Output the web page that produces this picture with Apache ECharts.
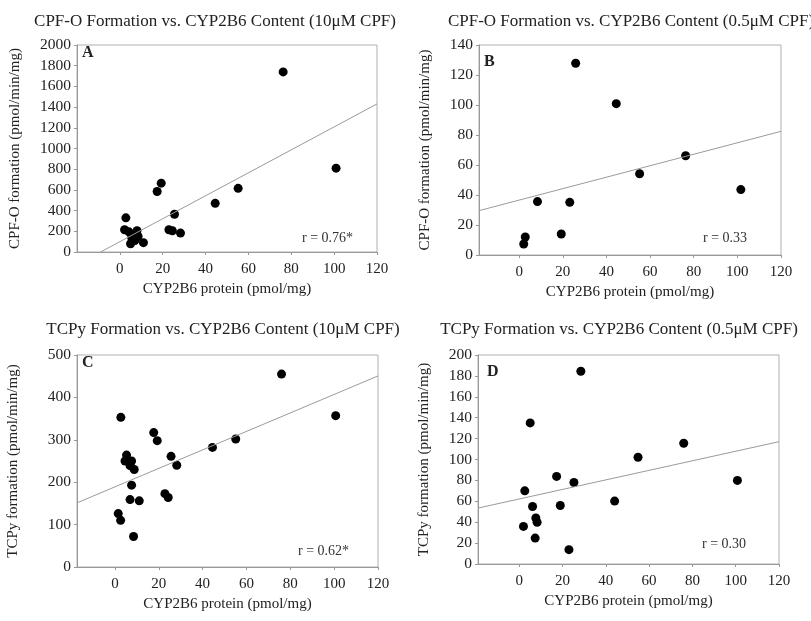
<!DOCTYPE html>
<html>
<head>
<meta charset="utf-8">
<script src="https://cdn.jsdelivr.net/npm/echarts@6/dist/echarts.min.js"></script>
<style>
  html, body { margin: 0; padding: 0; background: #fff; }
  #chart { width: 811px; height: 621px; }
</style>
</head>
<body>
<div id="chart"></div>
<script>
  // CYP2B6 protein (pmol/mg) vs formation rates
  const xA = [2.2, 2.8, 4.2, 5.0, 5.5, 6.3, 7.0, 7.5, 8.0, 8.5, 11.0, 17.4, 19.3, 22.9, 24.5, 25.5, 28.3, 44.5, 55.2, 76.2, 100.9]
  const yA = [215, 330, 195, 80, 140, 165, 110, 180, 205, 150, 90, 585, 665, 215, 205, 365, 183, 470, 615, 1740, 810]

  const xB = [2.1, 2.8, 8.4, 19.3, 23.2, 25.9, 44.5, 55.2, 76.3, 101.6]
  const yB = [7.3, 12, 35.6, 14, 35.1, 127.8, 100.9, 54.2, 66.2, 43.6]

  const xC = [1.5, 2.6, 2.7, 4.6, 5.3, 6.9, 6.9, 7.6, 7.6, 8.5, 8.8, 11.1, 17.7, 19.3, 22.8, 24.3, 25.6, 28.2, 44.5, 55.1, 76.0, 100.7]
  const yC = [126, 110, 353, 250, 264, 239, 159, 250, 193, 72, 230, 156, 317, 298, 173, 164, 261, 240, 282, 302, 455, 357]

  const xD = [2.0, 2.6, 5.1, 6.2, 7.4, 7.7, 8.3, 17.3, 19.0, 23.0, 25.3, 28.5, 44.1, 54.9, 76.0, 100.8]
  const yD = [36, 70, 135, 55, 24.8, 44, 40, 83.8, 56, 13.7, 78, 184.4, 60.2, 102.2, 115.6, 80]

  // regression lines: [intercept, slope]
  const fitA = [99.8, 11.09]
  const fitB = [36.6, 0.382]
  const fitC = [189, 2.18]
  const fitD = [62.2, 0.457]

  const titles = [
    'CPF-O Formation vs. CYP2B6 Content (10\u03bcM CPF)',
    'CPF-O Formation vs. CYP2B6 Content (0.5\u03bcM CPF)',
    'TCPy Formation vs. CYP2B6 Content (10\u03bcM CPF)',
    'TCPy Formation vs. CYP2B6 Content (0.5\u03bcM CPF)'
  ]
  const yNames = ['CPF-O formation (pmol/min/mg)', 'CPF-O formation (pmol/min/mg)',
    'TCPy formation (pmol/min/mg)', 'TCPy formation (pmol/min/mg)']
  const xName = 'CYP2B6 protein (pmol/mg)'
  const letters = ['A', 'B', 'C', 'D']
  const rTexts = ['r = 0.76*', 'r = 0.33', 'r = 0.62*', 'r = 0.30']
  const xTicks = [0, 20, 40, 60, 80, 100, 120]
  const yMax = [2000, 140, 500, 200]
  const yStep = [200, 20, 100, 20]
  const xMin = [-20, -18.4, -17.3, -19]

  const serif = '"Liberation Serif", "DejaVu Serif", serif'
  const xs = [xA, xB, xC, xD]
  const ys = [yA, yB, yC, yD]
  const fits = [fitA, fitB, fitC, fitD]

  // grid boxes in px: left, top, width, height
  const boxes = [
    [77, 45, 300, 207],
    [479, 45, 302, 210],
    [77, 355, 301, 212],
    [478, 355, 301, 209]
  ]
  const titlePos = [[210, 8], [626, 8], [218, 316], [614, 316]]
  const yNameGap = [54, 46, 56, 46]
  const letterPos = [[82, 45], [484, 54], [82, 355], [487, 364]]
  const rPos = [[302, 231], [703, 231], [298, 544], [702, 537]]

  let chart = echarts.init(document.getElementById('chart'))

  let grid = [], xAxis = [], yAxis = [], series = [], title = [], graphic = []
  for (let i = 0; i < 4; i++) {
    let b = boxes[i]
    grid.push({ left: b[0], top: b[1], width: b[2], height: b[3], show: true, borderColor: '#b0b0b0', borderWidth: 1 })
    xAxis.push({
      gridIndex: i, type: 'value', min: xMin[i], max: 120,
      name: xName, nameLocation: 'middle', nameGap: 30,
      nameTextStyle: { fontFamily: serif, fontSize: 15, color: '#222' },
      axisLine: { onZero: false, lineStyle: { color: '#999' } },
      axisTick: { show: true, length: 3, customValues: xTicks, lineStyle: { color: '#999' } },
      axisLabel: { customValues: xTicks, fontFamily: serif, fontSize: 15, color: '#222', margin: 10 },
      splitLine: { show: false }
    })
    yAxis.push({
      gridIndex: i, type: 'value', min: 0, max: yMax[i], interval: yStep[i],
      name: yNames[i], nameLocation: 'middle', nameGap: yNameGap[i], nameRotate: 90,
      nameTextStyle: { fontFamily: serif, fontSize: 15, color: '#222' },
      axisLine: { show: true, onZero: false, lineStyle: { color: '#999' } },
      axisTick: { show: true, length: 3, lineStyle: { color: '#999' } },
      axisLabel: { fontFamily: serif, fontSize: 15.5, color: '#222', margin: 6, formatter: v => String(v) },
      splitLine: { show: false }
    })
    let f = fits[i]
    let x0 = Math.max(xMin[i], -f[0] / f[1])
    series.push({
      type: 'line', xAxisIndex: i, yAxisIndex: i, symbol: 'none', silent: true,
      lineStyle: { color: '#9a9a9a', width: 1 },
      data: [[x0, f[0] + f[1] * x0], [120, f[0] + f[1] * 120]]
    })
    series.push({
      type: 'scatter', xAxisIndex: i, yAxisIndex: i, symbolSize: 9,
      itemStyle: { color: '#000', opacity: 1 },
      data: xs[i].map((x, k) => [x, ys[i][k]])
    })
    title.push({
      text: titles[i], left: titlePos[i][0], top: titlePos[i][1], textAlign: 'center',
      textStyle: { fontFamily: serif, fontSize: 17, fontWeight: 'normal', color: '#222' }
    })
    graphic.push({
      type: 'text', left: letterPos[i][0], top: letterPos[i][1],
      style: { text: letters[i], font: 'bold 16px ' + serif, fill: '#222' }
    })
    graphic.push({
      type: 'text', left: rPos[i][0], top: rPos[i][1],
      style: { text: rTexts[i], font: '14px ' + serif, fill: '#333' }
    })
  }

  chart.setOption({
    animation: false,
    title: title,
    grid: grid,
    xAxis: xAxis,
    yAxis: yAxis,
    series: series,
    graphic: graphic
  })
</script>
</body>
</html>
